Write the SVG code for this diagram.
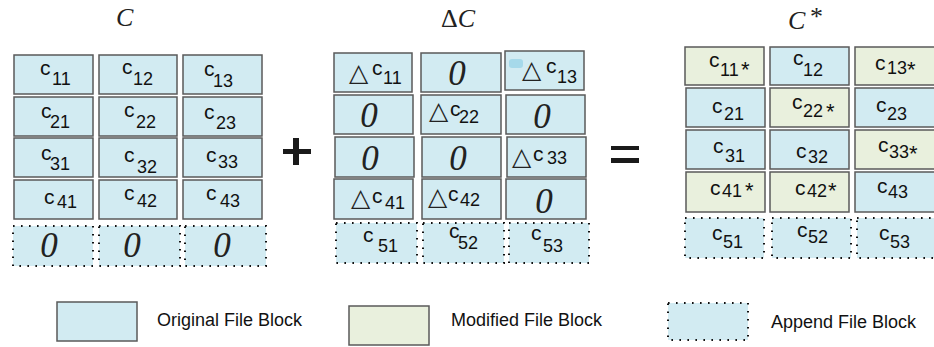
<svg xmlns="http://www.w3.org/2000/svg" width="934" height="347" viewBox="0 0 934 347">
<style>
.o{fill:#d2ebf2;stroke:#5a5a5a;stroke-width:1.5}
.m{fill:#e9f0dd;stroke:#5a5a5a;stroke-width:1.5}
.a{fill:#d2ebf2;stroke:#111;stroke-width:2;stroke-dasharray:1.6 6.4}
.c{font-family:"Liberation Sans",Arial,sans-serif;font-size:21px;fill:#111}
.s{font-size:18px}
.st{font-size:22px}
.z{font-family:"Liberation Serif","Times New Roman",serif;font-style:italic;font-size:35px;fill:#222;text-anchor:middle}
.t{font-family:"DejaVu Sans",sans-serif;font-size:25px;fill:#222}
.ti{font-family:"Liberation Serif","Times New Roman",serif;font-size:26px;fill:#222}
.lg{font-family:"Liberation Sans",Arial,sans-serif;font-size:18px;fill:#111}
</style>
<rect width="934" height="347" fill="#fff"/>
<g id="titles">
<text class="ti" x="116" y="26" font-style="italic">C</text>
<text class="ti" x="441" y="27">Δ<tspan font-style="italic">C</tspan></text>
<text class="ti" x="788" y="29" font-style="italic" font-size="28">C</text>
<text class="ti" x="810" y="25" font-size="38">*</text>
</g>
<g id="matrix-C">
<g id="C11"><rect class="o" x="14" y="55" width="79" height="39"/><text class="c" x="40" y="75">c<tspan class="s" x="52" y="85">11</tspan></text></g>
<g id="C12"><rect class="o" x="99" y="55" width="78" height="39"/><text class="c" x="122" y="74">c<tspan class="s" x="133" y="85">12</tspan></text></g>
<g id="C13"><rect class="o" x="183" y="55" width="79" height="39"/><text class="c" x="204" y="76">c<tspan class="s" x="213" y="87">13</tspan></text></g>
<g id="C21"><rect class="o" x="14" y="97" width="79" height="39"/><text class="c" x="41" y="118">c<tspan class="s" x="50" y="128">21</tspan></text></g>
<g id="C22"><rect class="o" x="99" y="97" width="78" height="39"/><text class="c" x="124" y="117">c<tspan class="s" x="136" y="128">22</tspan></text></g>
<g id="C23"><rect class="o" x="183" y="97" width="79" height="39"/><text class="c" x="204" y="119">c<tspan class="s" x="216" y="129">23</tspan></text></g>
<g id="C31"><rect class="o" x="14" y="138" width="79" height="39"/><text class="c" x="41" y="160">c<tspan class="s" x="50" y="170">31</tspan></text></g>
<g id="C32"><rect class="o" x="99" y="138" width="78" height="39"/><text class="c" x="124" y="162">c<tspan class="s" x="137" y="173">32</tspan></text></g>
<g id="C33"><rect class="o" x="183" y="138" width="79" height="39"/><text class="c" x="206" y="162">c<tspan class="s" x="218" y="168">33</tspan></text></g>
<g id="C41"><rect class="o" x="14" y="180" width="79" height="39"/><text class="c" x="44" y="204">c<tspan class="s" x="57" y="208">41</tspan></text></g>
<g id="C42"><rect class="o" x="99" y="180" width="78" height="39"/><text class="c" x="124" y="200">c<tspan class="s" x="137" y="207">42</tspan></text></g>
<g id="C43"><rect class="o" x="183" y="180" width="79" height="39"/><text class="c" x="206" y="200">c<tspan class="s" x="220" y="207">43</tspan></text></g>
<g id="C51"><rect class="a" x="13" y="226" width="80" height="40"/><text class="z" x="49" y="257">0</text></g>
<g id="C52"><rect class="a" x="99" y="226" width="81" height="40"/><text class="z" x="132" y="257">0</text></g>
<g id="C53"><rect class="a" x="185" y="226" width="81" height="40"/><text class="z" x="222" y="257">0</text></g>
</g>
<g id="plus"><rect x="293" y="138" width="6" height="27" fill="#1a1a1a"/><rect x="283" y="149" width="28" height="5" fill="#1a1a1a"/></g>
<g id="matrix-dC">
<g id="D11"><rect class="o" x="334" y="53" width="78" height="39"/><text class="t" x="349" y="81">△</text><text class="c" x="372" y="75">c<tspan class="s" x="383" y="84">11</tspan></text></g>
<g id="D12"><rect class="o" x="421" y="53" width="80" height="39"/><text class="z" x="457" y="85">0</text></g>
<g id="D13"><rect class="o" x="505" y="51" width="79" height="39" stroke="#333"/><rect x="509" y="59" width="14" height="9" rx="3" fill="#a6d9ea"/><text class="t" x="522" y="78">△</text><text class="c" x="546" y="73">c<tspan class="s" x="557" y="83">13</tspan></text></g>
<g id="D21"><rect class="o" x="334" y="95" width="79" height="39"/><text class="z" x="369" y="127">0</text></g>
<g id="D22"><rect class="o" x="421" y="95" width="80" height="39"/><text class="t" x="429" y="119">△</text><text class="c" x="450" y="116">c<tspan class="s" x="459" y="123">22</tspan></text></g>
<g id="D23"><rect class="o" x="506" y="95" width="79" height="39"/><text class="z" x="542" y="128">0</text></g>
<g id="D31"><rect class="o" x="335" y="137" width="79" height="40"/><text class="z" x="370" y="170">0</text></g>
<g id="D32"><rect class="o" x="422" y="137" width="79" height="40"/><text class="z" x="458" y="170">0</text></g>
<g id="D33"><rect class="o" x="507" y="137" width="79" height="40"/><text class="t" x="512" y="165">△</text><text class="c" x="533" y="161">c<tspan class="s" x="547" y="164">33</tspan></text></g>
<g id="D41"><rect class="o" x="334" y="179" width="79" height="40"/><text class="t" x="351" y="206">△</text><text class="c" x="372" y="203">c<tspan class="s" x="385" y="209">41</tspan></text></g>
<g id="D42"><rect class="o" x="422" y="179" width="79" height="40"/><text class="t" x="428" y="205">△</text><text class="c" x="448" y="201">c<tspan class="s" x="460" y="206">42</tspan></text></g>
<g id="D43"><rect class="o" x="506" y="179" width="80" height="40"/><text class="z" x="544" y="213">0</text></g>
<g id="D51"><rect class="a" x="336" y="223" width="81" height="40"/><text class="c" x="363" y="242">c<tspan class="s" x="378" y="252">51</tspan></text></g>
<g id="D52"><rect class="a" x="423" y="223" width="81" height="40"/><text class="c" x="449" y="238">c<tspan class="s" x="458" y="249">52</tspan></text></g>
<g id="D53"><rect class="a" x="509" y="223" width="80" height="40"/><text class="c" x="531" y="240">c<tspan class="s" x="543" y="252">53</tspan></text></g>
</g>
<g id="equals"><rect x="611" y="146" width="28" height="4" fill="#1a1a1a"/><rect x="611" y="158" width="28" height="5" fill="#1a1a1a"/></g>
<g id="matrix-Cstar">
<g id="S11"><rect class="m" x="685" y="47" width="79" height="38"/><text class="c" x="709" y="67">c<tspan class="s" x="720" y="76">11</tspan><tspan class="st" x="741" y="77">*</tspan></text></g>
<g id="S12"><rect class="o" x="770" y="47" width="79" height="38"/><text class="c" x="793" y="65">c<tspan class="s" x="803" y="76">12</tspan></text></g>
<g id="S13"><rect class="m" x="855" y="47" width="80" height="38"/><text class="c" x="875" y="70">c<tspan class="s" x="887" y="74">13</tspan><tspan class="st" x="907" y="77">*</tspan></text></g>
<g id="S21"><rect class="o" x="686" y="88" width="79" height="39"/><text class="c" x="712" y="113">c<tspan class="s" x="724" y="120">21</tspan></text></g>
<g id="S22"><rect class="m" x="770" y="88" width="79" height="39"/><text class="c" x="792" y="109">c<tspan class="s" x="803" y="117">22</tspan><tspan class="st" x="826" y="119">*</tspan></text></g>
<g id="S23"><rect class="o" x="855" y="88" width="80" height="39"/><text class="c" x="876" y="112">c<tspan class="s" x="887" y="120">23</tspan></text></g>
<g id="S31"><rect class="o" x="686" y="130" width="79" height="39"/><text class="c" x="713" y="153">c<tspan class="s" x="725" y="162">31</tspan></text></g>
<g id="S32"><rect class="o" x="770" y="130" width="79" height="39"/><text class="c" x="796" y="158">c<tspan class="s" x="808" y="163">32</tspan></text></g>
<g id="S33"><rect class="m" x="855" y="130" width="80" height="39"/><text class="c" x="878" y="152">c<tspan class="s" x="889" y="158">33</tspan><tspan class="st" x="909" y="161">*</tspan></text></g>
<g id="S41"><rect class="m" x="686" y="172" width="79" height="40"/><text class="c" x="710" y="195">c<tspan class="s" x="722" y="197">41</tspan><tspan class="st" x="745" y="198">*</tspan></text></g>
<g id="S42"><rect class="m" x="770" y="172" width="79" height="40"/><text class="c" x="795" y="195">c<tspan class="s" x="807" y="197">42</tspan><tspan class="st" x="828" y="198">*</tspan></text></g>
<g id="S43"><rect class="o" x="855" y="172" width="80" height="40"/><text class="c" x="877" y="193">c<tspan class="s" x="888" y="198">43</tspan></text></g>
<g id="S51"><rect class="a" x="685" y="218" width="79" height="40"/><text class="c" x="712" y="240">c<tspan class="s" x="723" y="248">51</tspan></text></g>
<g id="S52"><rect class="a" x="772" y="218" width="79" height="40"/><text class="c" x="797" y="237">c<tspan class="s" x="808" y="243">52</tspan></text></g>
<g id="S53"><rect class="a" x="857" y="218" width="78" height="40"/><text class="c" x="879" y="240">c<tspan class="s" x="890" y="248">53</tspan></text></g>
</g>
<g id="legend">
<g id="L1"><rect class="o" x="57" y="302" width="80" height="39"/><text class="lg" x="157" y="326">Original File Block</text></g>
<g id="L2"><rect class="m" x="349" y="306" width="80" height="39"/><text class="lg" x="451" y="326">Modified File Block</text></g>
<g id="L3"><rect class="a" x="668" y="303" width="80" height="37"/><text class="lg" x="771" y="328">Append File Block</text></g>
</g>
</svg>
